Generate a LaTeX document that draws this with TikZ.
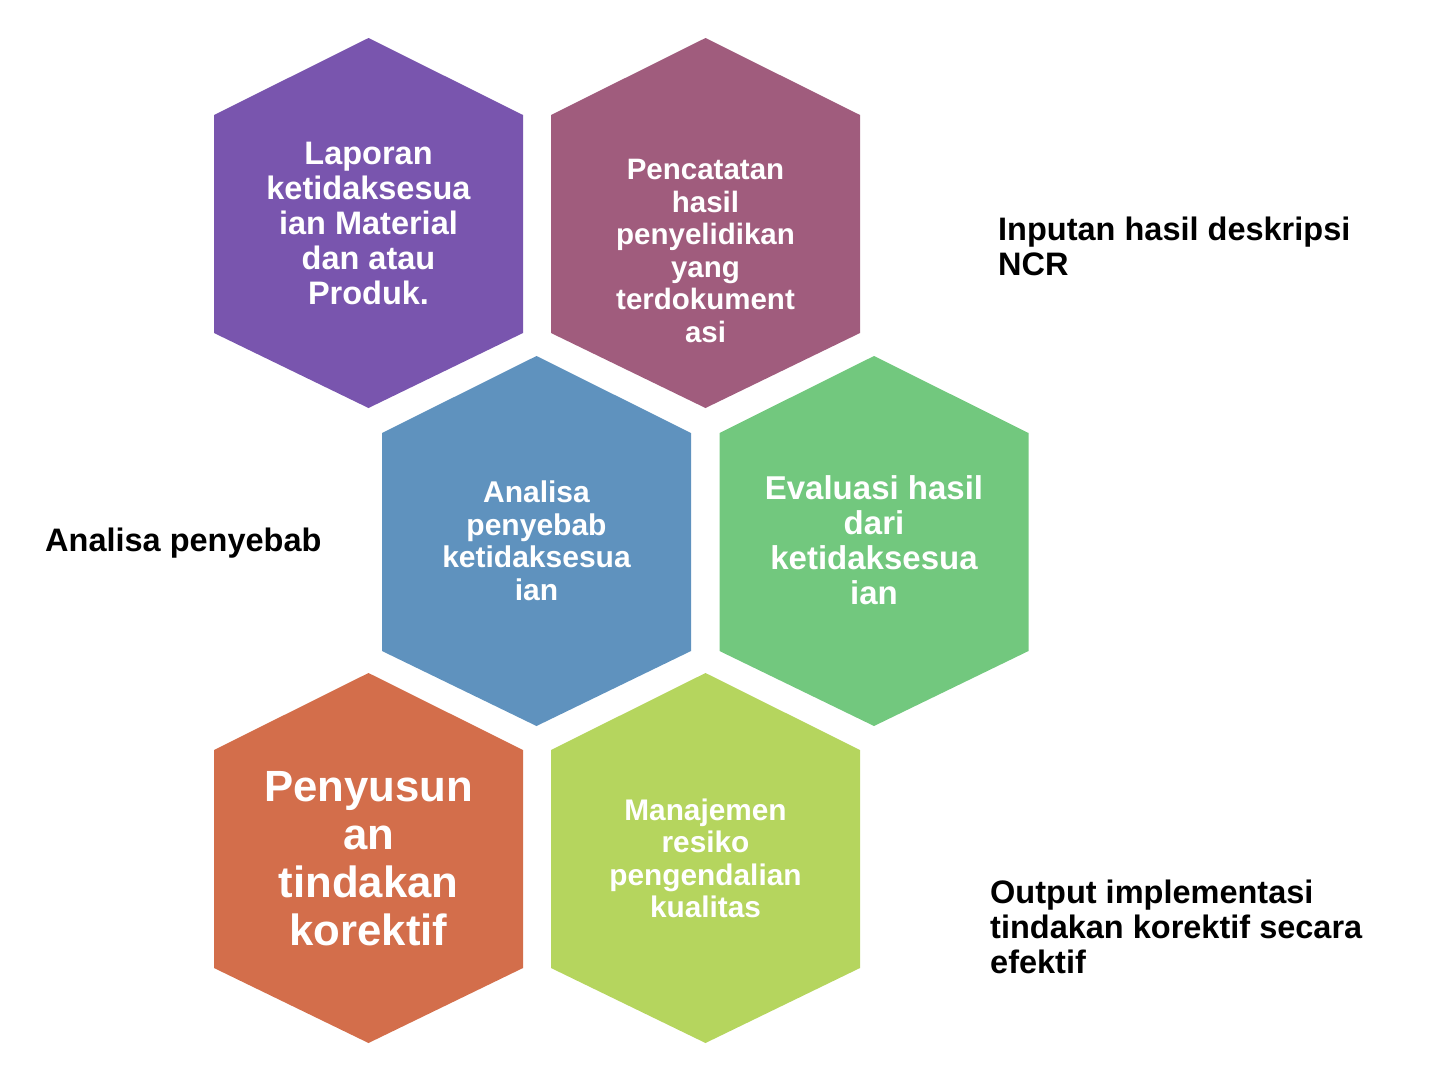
\documentclass[tikz,border=0pt]{standalone}
\usepackage{fontspec}
\setmainfont{Liberation Sans}
\definecolor{cpurple}{HTML}{7955AE}
\definecolor{cmauve}{HTML}{A05C7D}
\definecolor{cblue}{HTML}{5F92BE}
\definecolor{cgreen}{HTML}{72C87E}
\definecolor{corange}{HTML}{D36E4B}
\definecolor{clime}{HTML}{B5D55E}
\newcommand\hexcell[3]{%
  \begin{scope}[shift={(#1,#2)}]
    \fill[#3] (0,-185) -- (154.5,-108) -- (154.5,110) -- (0,185) -- (-154.5,110) -- (-154.5,-108) -- cycle;
  \end{scope}}
\begin{document}
\begin{tikzpicture}[x=1pt,y=-1pt,
  hextext/.style={text=white,align=center,inner sep=0pt,font=\bfseries},
  lbl/.style={text=black,align=left,inner sep=0pt,anchor=west,font=\bfseries\fontsize{32.5}{35}\selectfont}]
\useasboundingbox (0,0) rectangle (1440,1084);
\hexcell{368.5}{223}{cpurple}
\hexcell{705.5}{223}{cmauve}
\hexcell{536.5}{541}{cblue}
\hexcell{874}{541}{cgreen}
\hexcell{368.5}{858}{corange}
\hexcell{705.5}{858}{clime}
\node[hextext,font=\bfseries\fontsize{32.5}{35}\selectfont] (h1) at (368.5,223) {Laporan\\ketidaksesua\\ian Material\\dan atau\\Produk.};
\node[hextext,font=\bfseries\fontsize{29.5}{32.5}\selectfont] (h2) at (705.5,251) {Pencatatan\\hasil\\penyelidikan\\yang\\terdokument\\asi};
\node[hextext,font=\bfseries\fontsize{30}{32.5}\selectfont] (h3) at (536.5,541) {Analisa\\penyebab\\ketidaksesua\\ian};
\node[hextext,font=\bfseries\fontsize{33}{35}\selectfont] (h4) at (874,540.5) {Evaluasi hasil\\dari\\ketidaksesua\\ian};
\node[hextext,font=\bfseries\fontsize{43.7}{48}\selectfont] (h5) at (368.5,859) {Penyusun\\an\\tindakan\\korektif};
\node[hextext,font=\bfseries\fontsize{29.8}{32.5}\selectfont] (h6) at (705.5,858.5) {Manajemen\\resiko\\pengendalian\\kualitas};
\node[lbl] (l1) at (998,246) {Inputan hasil deskripsi\\NCR};
\node[lbl] (l2) at (45,543) {Analisa penyebab};
\node[lbl] (l3) at (990,927) {Output implementasi\\tindakan korektif secara\\efektif};
\end{tikzpicture}
\end{document}
